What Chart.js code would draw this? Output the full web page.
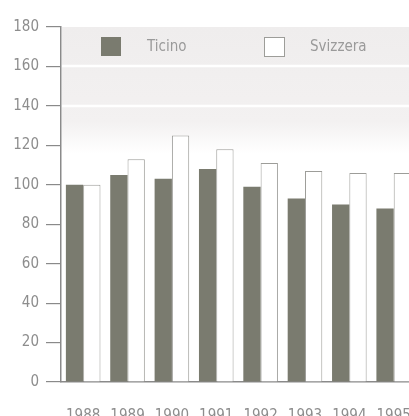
<!DOCTYPE html>
<html>
<head>
<meta charset="utf-8">
<style>
  html, body { margin: 0; padding: 0; background: #ffffff; overflow: hidden; }
  #wrap { width: 409px; height: 416px; overflow: hidden; }
</style>
<script src="https://cdn.jsdelivr.net/npm/chart.js@4"></script>
</head>
<body>
<div id="wrap"><canvas id="barChart" width="428" height="416"></canvas></div>
<script>
const years = ["1988", "1989", "1990", "1991", "1992", "1993", "1994", "1995"];
const ticino = [100, 105, 103, 108, 99, 93, 90, 88];
const svizzera = [100, 113, 125, 118, 111, 107, 106, 106];
const yTicks = [0, 20, 40, 60, 80, 100, 120, 140, 160, 180];

const axisFont = "\"Liberation Sans Narrow\", \"DejaVu Sans Condensed\", \"Roboto\", sans-serif";
const textColor = "#8d8d8d";
const axisColor = "#8a8a8a";

// pale band behind the upper part of the plot, with white rules
const bandPlugin = {
  id: "band",
  beforeDatasetsDraw(chart) {
    const { ctx, chartArea, scales } = chart;
    const y = scales.y;
    const top = y.getPixelForValue(180);
    const bottom = y.getPixelForValue(116);
    ctx.save();
    const grad = ctx.createLinearGradient(0, top, 0, bottom);
    grad.addColorStop(0, "#efeded");
    grad.addColorStop(0.75, "#f3f1f1");
    grad.addColorStop(1, "#ffffff");
    ctx.fillStyle = grad;
    ctx.fillRect(chartArea.left + 1, top, chartArea.right - chartArea.left, bottom - top);
    ctx.strokeStyle = "#ffffff";
    ctx.lineWidth = 2.5;
    [160, 140].forEach((v) => {
      const py = Math.round(y.getPixelForValue(v));
      ctx.beginPath();
      ctx.moveTo(chartArea.left + 1, py);
      ctx.lineTo(chartArea.right, py);
      ctx.stroke();
    });
    ctx.restore();
  }
};

// legend drawn inside the plot area
const insideLegend = {
  id: "insideLegend",
  afterDraw(chart) {
    const { ctx, chartArea } = chart;
    const slots = [40, 203];
    ctx.save();
    ctx.font = "15px " + axisFont;
    ctx.textBaseline = "middle";
    chart.data.datasets.forEach((ds, i) => {
      const x = chartArea.left + slots[i];
      const y = chartArea.top + 10;
      ctx.fillStyle = ds.backgroundColor;
      ctx.fillRect(x, y, 20, 19);
      if (ds.borderWidth) {
        ctx.strokeStyle = ds.borderColor;
        ctx.lineWidth = 1;
        ctx.strokeRect(x + 0.5, y + 0.5, 20, 19);
      }
      ctx.fillStyle = "#9a9a9a";
      ctx.fillText(ds.label, x + 46, y + 10);
    });
    ctx.restore();
  }
};

new Chart(document.getElementById("barChart"), {
  type: "bar",
  data: {
    labels: years,
    datasets: [
      {
        label: "Ticino",
        data: ticino,
        backgroundColor: "#7a7b6f",
        borderWidth: 0
      },
      {
        label: "Svizzera",
        data: svizzera,
        backgroundColor: "#ffffff",
        borderColor: "#9d9d99",
        borderWidth: 1
      }
    ]
  },
  options: {
    responsive: false,
    animation: false,
    categoryPercentage: 0.78,
    barPercentage: 1.0,
    layout: { padding: { top: 27, right: 2, left: 0, bottom: 0 } },
    plugins: {
      legend: { display: false },
      tooltip: { enabled: false }
    },
    scales: {
      x: {
        grid: { display: false },
        border: { display: true, color: axisColor, width: 1.5 },
        ticks: {
          color: textColor,
          padding: 17,
          maxRotation: 0,
          font: { family: axisFont, size: 15 }
        },
        afterFit(scale) { scale.height = 34; }
      },
      y: {
        min: 0,
        max: 180,
        afterBuildTicks(scale) {
          scale.ticks = yTicks.map((v) => ({ value: v }));
        },
        grid: {
          drawOnChartArea: false,
          drawTicks: true,
          tickLength: 15,
          color: axisColor,
          lineWidth: 1.2
        },
        border: { display: true, color: axisColor, width: 1.5 },
        ticks: {
          color: textColor,
          padding: 7,
          font: { family: axisFont, size: 15 }
        },
        afterFit(scale) { scale.width = 61; }
      }
    }
  },
  plugins: [bandPlugin, insideLegend]
});
</script>
</body>
</html>
